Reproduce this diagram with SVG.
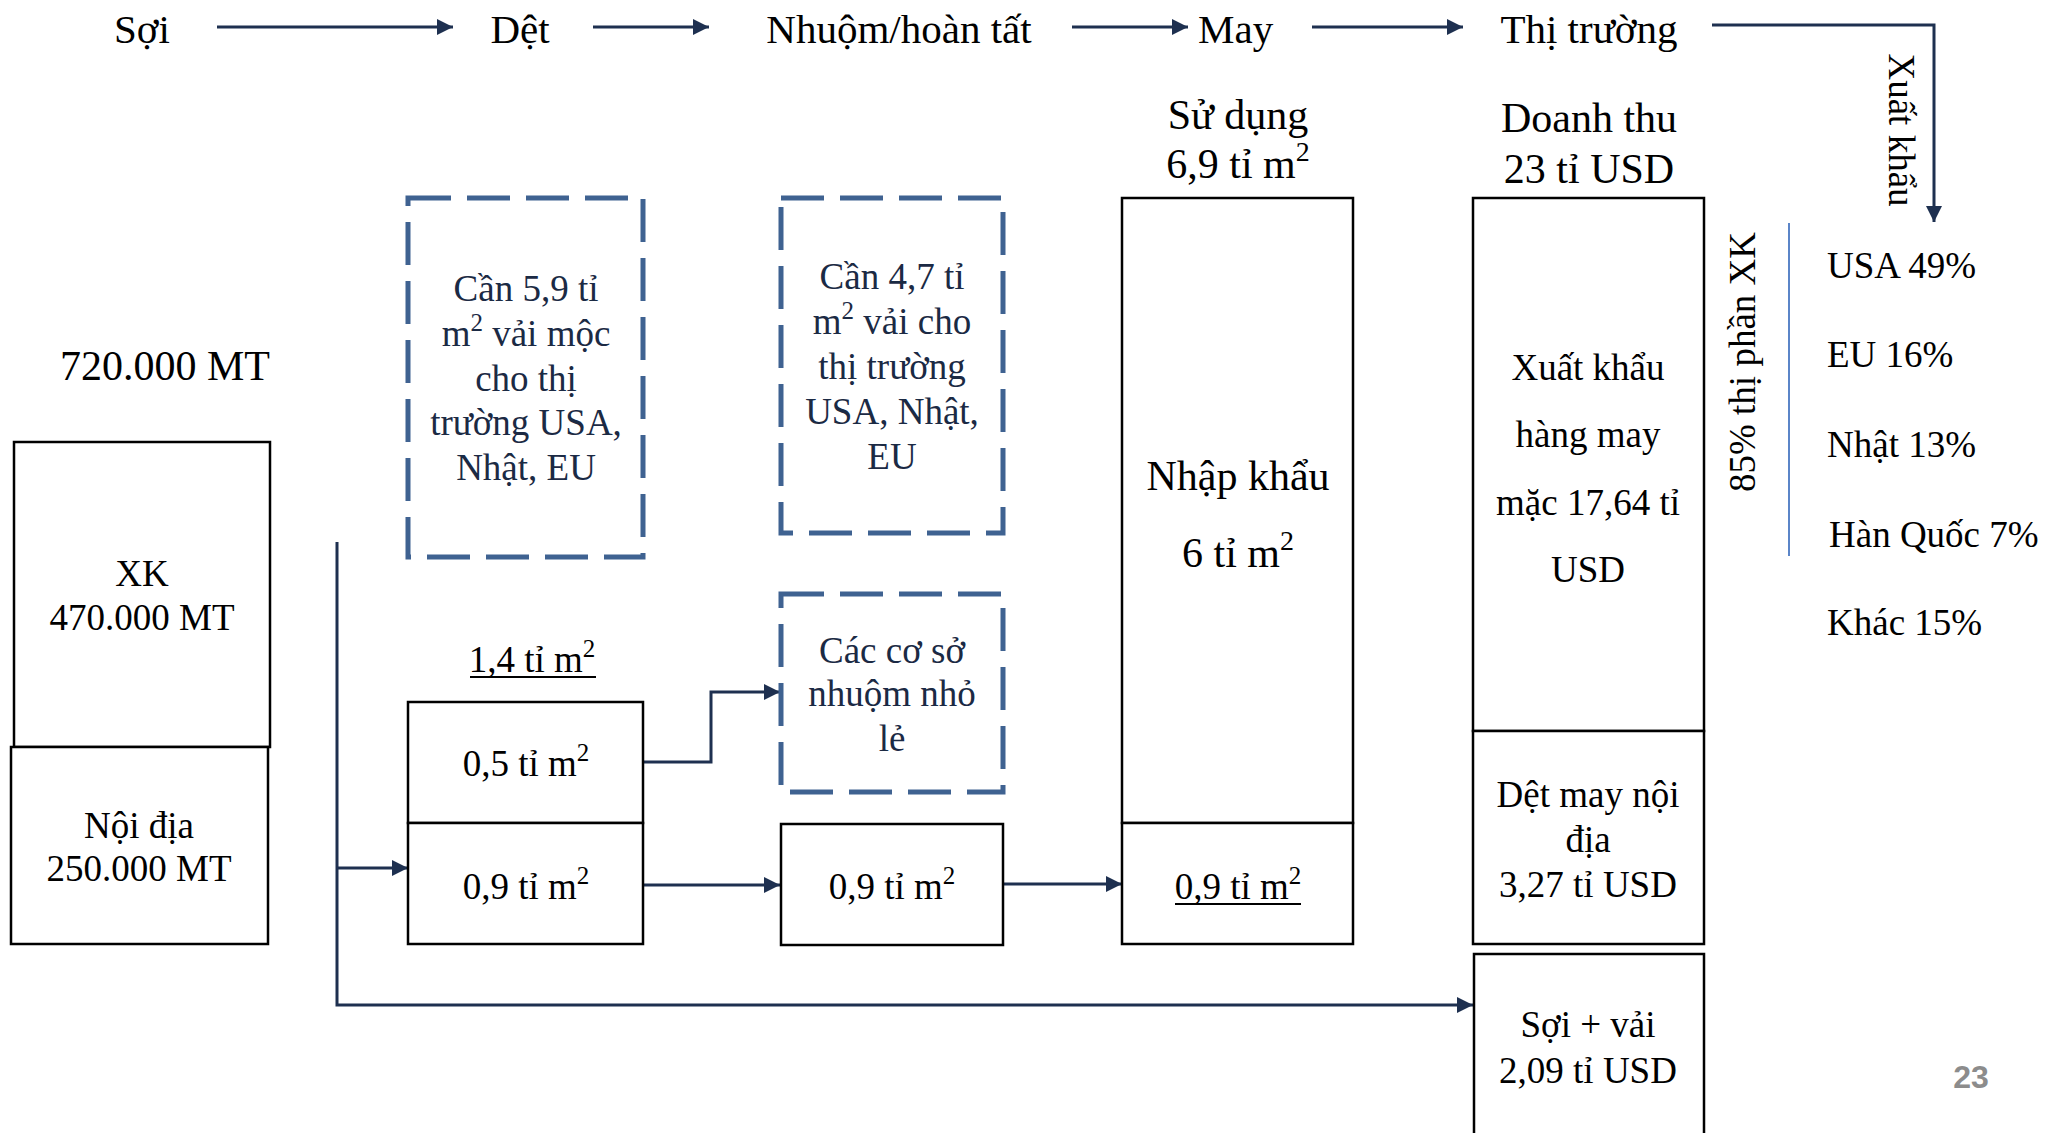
<svg xmlns="http://www.w3.org/2000/svg" width="2058" height="1133" viewBox="0 0 2058 1133">
  <style>
    text { font-family: "Liberation Serif", "Times New Roman", serif; fill: #000; }
    .stage { font-size: 41px; }
    .head { font-size: 42px; text-anchor: middle; }
    .lbl { font-size: 37px; text-anchor: middle; }
    .lst { font-size: 37px; }
    .note { font-size: 37px; text-anchor: middle; fill: #1B2A44; }
    .sup { font-size: 25px; }
    .box { fill: #fff; stroke: #000; stroke-width: 2.5; }
    .dash { fill: none; stroke: #3F6291; stroke-width: 5; stroke-dasharray: 43 16; }
    .flow { fill: none; stroke: #1E3050; stroke-width: 3; }
    .uline { stroke: #000; stroke-width: 2; }
  </style>
  <defs>
    <marker id="arr" markerUnits="userSpaceOnUse" markerWidth="18" markerHeight="16" refX="16" refY="8" orient="auto">
      <path d="M0,0 L16,8 L0,16 Z" fill="#1E3050"/>
    </marker>
  </defs>

  <rect x="0" y="0" width="2058" height="1133" fill="#fff"/>

  <!-- stage headings -->
  <g id="stages">
    <text class="stage" x="142" y="43" text-anchor="middle">Sợi</text>
    <text class="stage" x="520" y="43" text-anchor="middle">Dệt</text>
    <text class="stage" x="899" y="43" text-anchor="middle">Nhuộm/hoàn tất</text>
    <text class="stage" x="1198" y="43">May</text>
    <text class="stage" x="1589" y="43" text-anchor="middle">Thị trường</text>
  </g>

  <!-- connectors -->
  <g id="connectors">
    <line class="flow" x1="217" y1="27" x2="453" y2="27" marker-end="url(#arr)"/>
    <line class="flow" x1="593" y1="27" x2="709" y2="27" marker-end="url(#arr)"/>
    <line class="flow" x1="1072" y1="27" x2="1188" y2="27" marker-end="url(#arr)"/>
    <line class="flow" x1="1312" y1="27" x2="1463" y2="27" marker-end="url(#arr)"/>
    <polyline class="flow" points="1712,25 1934,25 1934,222" marker-end="url(#arr)"/>
    <!-- domestic yarn split -->
    <polyline class="flow" points="337,542 337,1005 1473,1005" marker-end="url(#arr)"/>
    <line class="flow" x1="337" y1="868" x2="408" y2="868" marker-end="url(#arr)"/>
    <polyline class="flow" points="643,762 711,762 711,692 780,692" marker-end="url(#arr)"/>
    <line class="flow" x1="643" y1="885" x2="780" y2="885" marker-end="url(#arr)"/>
    <line class="flow" x1="1003" y1="884" x2="1122" y2="884" marker-end="url(#arr)"/>
  </g>

  <!-- yarn -->
  <g id="yarn-total">
    <text x="165" y="380" text-anchor="middle" style="font-size:42px">720.000 MT</text>
  </g>
  <g id="yarn-export">
    <rect class="box" x="14" y="442" width="256" height="305"/>
    <text class="lbl" x="142" y="586">XK</text>
    <text class="lbl" x="142" y="630">470.000 MT</text>
  </g>
  <g id="yarn-domestic">
    <rect class="box" x="11" y="747" width="257" height="197"/>
    <text class="lbl" x="139" y="838">Nội địa</text>
    <text class="lbl" x="139" y="881">250.000 MT</text>
  </g>

  <!-- weaving -->
  <g id="weave-need">
    <rect class="dash" x="408" y="198" width="235" height="359"/>
    <text class="note" x="526" y="301">Cần 5,9 tỉ</text>
    <text class="note" x="526" y="346">m<tspan class="sup" dy="-15">2</tspan><tspan dy="15"> vải mộc</tspan></text>
    <text class="note" x="526" y="391">cho thị</text>
    <text class="note" x="526" y="435">trường USA,</text>
    <text class="note" x="526" y="480">Nhật, EU</text>
  </g>
  <g id="weave-total">
    <text class="lbl" x="532" y="672">1,4 tỉ m<tspan class="sup" dy="-15">2</tspan></text>
    <line class="uline" x1="470" y1="677" x2="596" y2="677"/>
  </g>
  <g id="weave-05">
    <rect class="box" x="408" y="702" width="235" height="121"/>
    <text class="lbl" x="526" y="776">0,5 tỉ m<tspan class="sup" dy="-15">2</tspan></text>
  </g>
  <g id="weave-09">
    <rect class="box" x="408" y="823" width="235" height="121"/>
    <text class="lbl" x="526" y="899">0,9 tỉ m<tspan class="sup" dy="-15">2</tspan></text>
  </g>

  <!-- dyeing / finishing -->
  <g id="dye-need">
    <rect class="dash" x="781" y="198" width="222" height="335"/>
    <text class="note" x="892" y="289">Cần 4,7 tỉ</text>
    <text class="note" x="892" y="334">m<tspan class="sup" dy="-15">2</tspan><tspan dy="15"> vải cho</tspan></text>
    <text class="note" x="892" y="379">thị trường</text>
    <text class="note" x="892" y="424">USA, Nhật,</text>
    <text class="note" x="892" y="469">EU</text>
  </g>
  <g id="dye-small">
    <rect class="dash" x="781" y="594" width="222" height="198"/>
    <text class="note" x="892" y="663">Các cơ sở</text>
    <text class="note" x="892" y="706">nhuộm nhỏ</text>
    <text class="note" x="892" y="751">lẻ</text>
  </g>
  <g id="dye-09">
    <rect class="box" x="781" y="824" width="222" height="121"/>
    <text class="lbl" x="892" y="899">0,9 tỉ m<tspan class="sup" dy="-15">2</tspan></text>
  </g>

  <!-- garment -->
  <g id="garment-use">
    <text class="head" x="1238" y="129">Sử dụng</text>
    <text class="head" x="1238" y="178">6,9 tỉ m<tspan style="font-size:28px" dy="-17">2</tspan></text>
  </g>
  <g id="garment-import">
    <rect class="box" x="1122" y="198" width="231" height="625"/>
    <text class="head" x="1238" y="490">Nhập khẩu</text>
    <text class="head" x="1238" y="567">6 tỉ m<tspan style="font-size:28px" dy="-17">2</tspan></text>
  </g>
  <g id="garment-local">
    <rect class="box" x="1122" y="823" width="231" height="121"/>
    <text class="lbl" x="1238" y="899">0,9 tỉ m<tspan class="sup" dy="-15">2</tspan></text>
    <line class="uline" x1="1175" y1="904" x2="1301" y2="904"/>
  </g>

  <!-- market -->
  <g id="market-revenue">
    <text class="head" x="1589" y="132">Doanh thu</text>
    <text class="head" x="1589" y="183">23 tỉ USD</text>
  </g>
  <g id="market-export">
    <rect class="box" x="1473" y="198" width="231" height="533"/>
    <text class="lbl" x="1588" y="380">Xuất khẩu</text>
    <text class="lbl" x="1588" y="447">hàng may</text>
    <text class="lbl" x="1588" y="515">mặc 17,64 tỉ</text>
    <text class="lbl" x="1588" y="582">USD</text>
  </g>
  <g id="market-domestic">
    <rect class="box" x="1473" y="731" width="231" height="213"/>
    <text class="lbl" x="1588" y="807">Dệt may nội</text>
    <text class="lbl" x="1588" y="852">địa</text>
    <text class="lbl" x="1588" y="897">3,27 tỉ USD</text>
  </g>
  <g id="market-yarn-fabric">
    <rect class="box" x="1474" y="954" width="230" height="200"/>
    <text class="lbl" x="1588" y="1037">Sợi + vải</text>
    <text class="lbl" x="1588" y="1083">2,09 tỉ USD</text>
  </g>

  <!-- export destinations -->
  <g id="export-label">
    <text class="lbl" transform="translate(1889,130) rotate(90)">Xuất khẩu</text>
  </g>
  <g id="export-share">
    <text class="lbl" transform="translate(1755,362) rotate(-90)">85% thị phần XK</text>
    <line x1="1789" y1="223" x2="1789" y2="556" stroke="#5B85C8" stroke-width="2"/>
  </g>
  <g id="export-markets">
    <text class="lst" x="1827" y="278">USA 49%</text>
    <text class="lst" x="1827" y="367">EU 16%</text>
    <text class="lst" x="1827" y="457">Nhật 13%</text>
    <text class="lst" x="1829" y="547">Hàn Quốc 7%</text>
    <text class="lst" x="1827" y="635">Khác 15%</text>
  </g>

  <!-- page number -->
  <text x="1971" y="1088" text-anchor="middle" style="font-family:'Liberation Sans',Arial,sans-serif;font-weight:bold;font-size:32px;fill:#8C8C8C">23</text>
</svg>
